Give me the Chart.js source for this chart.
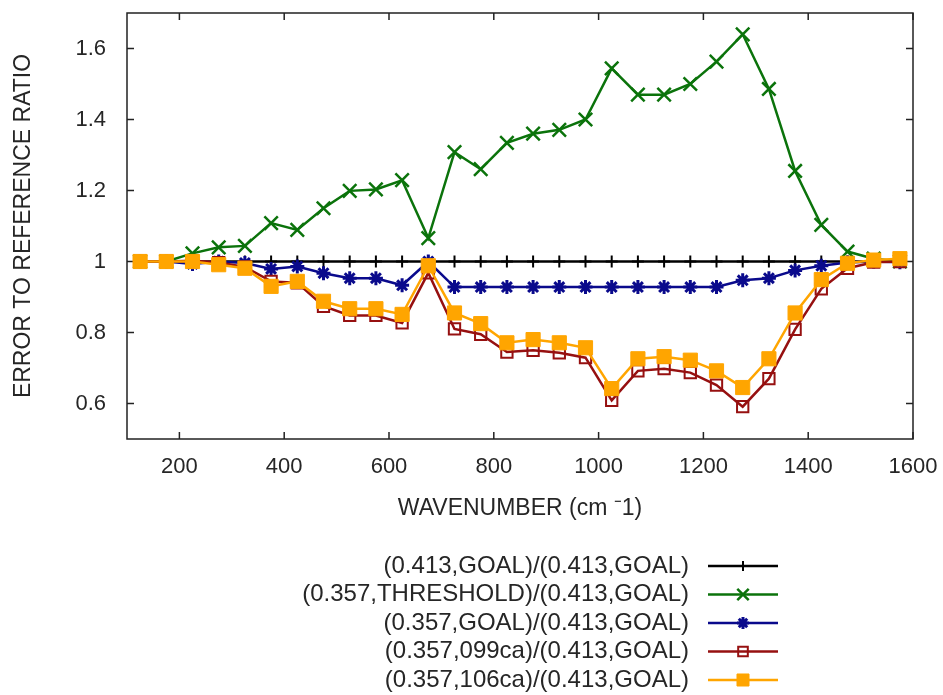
<!DOCTYPE html>
<html>
<head>
<meta charset="utf-8">
<script src="https://cdn.jsdelivr.net/npm/chart.js@4/dist/chart.umd.min.js"></script>
<style>
  html, body { margin: 0; padding: 0; background: #fff; }
  #wrap { width: 943px; height: 695px; position: relative; }
</style>
</head>
<body>
<div id="wrap"><canvas id="myLine"></canvas></div>
<script>
// wavenumber (cm-1) of every sample
let wavenumber = [125,175,225,275,325,375,425,475,525,575,625,675,725,775,825,875,925,975,1025,1075,1125,1175,1225,1275,1325,1375,1425,1475,1525,1575]

let goalGoal = [1,1,1,1,1,1,1,1,1,1,1,1,1,1,1,1,1,1,1,1,1,1,1,1,1,1,1,1,1,1]
let threshold = [1.0,1.0,1.023,1.04,1.044,1.108,1.089,1.15,1.199,1.203,1.229,1.066,1.308,1.26,1.334,1.36,1.371,1.4,1.544,1.47,1.47,1.5,1.563,1.64,1.486,1.255,1.103,1.028,1.008,1.0]
let goal357 = [1.0,1.0,0.993,1.0,0.996,0.979,0.986,0.967,0.953,0.953,0.933,1.0,0.928,0.928,0.928,0.928,0.928,0.928,0.928,0.928,0.928,0.928,0.928,0.947,0.953,0.975,0.988,0.997,1.0,0.998]
let ca099 = [1.0,1.0,1.002,0.997,0.985,0.944,0.94,0.874,0.848,0.848,0.827,0.968,0.81,0.795,0.745,0.75,0.743,0.729,0.609,0.692,0.698,0.687,0.652,0.591,0.67,0.809,0.923,0.981,0.998,1.0]
let ca106 = [1.0,1.0,1.0,0.991,0.981,0.93,0.944,0.888,0.867,0.867,0.851,0.988,0.855,0.825,0.771,0.78,0.771,0.757,0.642,0.726,0.732,0.722,0.692,0.645,0.726,0.855,0.949,0.995,1.004,1.008]

let xTicks = [200,400,600,800,1000,1200,1400,1600]
let yTicks = [0.6,0.8,1.0,1.2,1.4,1.6]

let labels = [
  '(0.413,GOAL)/(0.413,GOAL)',
  '(0.357,THRESHOLD)/(0.413,GOAL)',
  '(0.357,GOAL)/(0.413,GOAL)',
  '(0.357,099ca)/(0.413,GOAL)',
  '(0.357,106ca)/(0.413,GOAL)'
]

function pts(arr){
  return arr.map((v, i) => ({x: wavenumber[i], y: v}))
}

const textColor = '#262626'
const fontFam = '"Liberation Sans", Arial, sans-serif'

// gnuplot style box with inward ticks on all four sides
const boxPlugin = {
  id: 'box',
  beforeDatasetsDraw(chart){
    const ctx = chart.ctx
    const a = chart.chartArea
    const xs = chart.scales.x, ys = chart.scales.y
    ctx.save()
    ctx.strokeStyle = '#222'
    ctx.lineWidth = 1.5
    ctx.strokeRect(a.left, a.top, a.right - a.left, a.bottom - a.top)
    ctx.beginPath()
    xTicks.forEach(v => {
      let px = xs.getPixelForValue(v)
      ctx.moveTo(px, a.bottom); ctx.lineTo(px, a.bottom - 7)
      ctx.moveTo(px, a.top); ctx.lineTo(px, a.top + 7)
    })
    yTicks.forEach(v => {
      let py = ys.getPixelForValue(v)
      ctx.moveTo(a.left, py); ctx.lineTo(a.left + 7, py)
      ctx.moveTo(a.right, py); ctx.lineTo(a.right - 7, py)
    })
    ctx.stroke()
    ctx.restore()
  }
}

// legend below the plot: text right aligned, sample on the right
const legendPlugin = {
  id: 'sideLegend',
  afterDraw(chart){
    const ctx = chart.ctx
    ctx.save()
    ctx.font = '24px ' + fontFam
    ctx.textAlign = 'right'
    ctx.textBaseline = 'middle'
    chart.data.datasets.forEach((ds, i) => {
      let y = 566 + i * 28.5
      ctx.fillStyle = textColor
      ctx.fillText(ds.label, 689, y)
      ctx.strokeStyle = ds.borderColor
      ctx.lineWidth = ds.borderWidth
      ctx.beginPath()
      ctx.moveTo(708, y); ctx.lineTo(778, y)
      ctx.stroke()
      if (Chart.helpers && Chart.helpers.drawPoint) {
        ctx.fillStyle = ds.pointBackgroundColor
        ctx.strokeStyle = ds.pointBorderColor
        ctx.lineWidth = ds.pointBorderWidth
        Chart.helpers.drawPoint(ctx, {
          pointStyle: ds.pointStyle,
          radius: ds.pointRadius * 0.85,
          borderWidth: ds.pointBorderWidth,
          rotation: 0
        }, 743, y)
      }
    })
    ctx.restore()
  }
}

function makeSet(label, data, color, style, radius, fill, bw, order){
  return {
    label: label,
    data: pts(data),
    borderColor: color,
    borderWidth: 2.5,
    pointStyle: style,
    pointRadius: radius,
    pointHoverRadius: radius,
    pointBorderWidth: bw,
    pointBorderColor: color,
    pointBackgroundColor: fill,
    showLine: true,
    tension: 0,
    order: order
  }
}

let cht = document.getElementById('myLine')
let lineChart = new Chart(cht, {
  type: 'scatter',
  data: {
    datasets: [
      makeSet(labels[0], goalGoal, '#000000', 'cross', 6, '#000000', 2, 5),
      makeSet(labels[1], threshold, '#0b730b', 'crossRot', 9.5, '#0b730b', 2.5, 4),
      makeSet(labels[2], goal357, '#0a0a8c', 'star', 7, '#0a0a8c', 3, 3),
      makeSet(labels[3], ca099, '#961010', 'rect', 8, 'rgba(255,255,255,0)', 2, 2),
      makeSet(labels[4], ca106, '#ffa500', 'rect', 10, '#ffa500', 1, 1)
    ]
  },
  options: {
    responsive: true,
    maintainAspectRatio: false,
    animation: false,
    layout: { padding: { left: 0, top: 13, right: 30, bottom: 156 } },
    plugins: {
      legend: { display: false },
      tooltip: { enabled: false }
    },
    scales: {
      x: {
        type: 'linear',
        min: 100,
        max: 1600,
        afterBuildTicks: s => { s.ticks = xTicks.map(v => ({value: v})) },
        afterFit: s => { s.height = 100; s.paddingLeft = 0; s.paddingRight = 0 },
        grid: { display: false },
        border: { display: false },
        ticks: {
          padding: 7,
          color: textColor,
          font: { family: fontFam, size: 22 },
          maxRotation: 0,
          autoSkip: false,
          callback: v => String(v)
        },
        title: {
          display: true,
          text: 'WAVENUMBER (cm \u207B1)',
          color: textColor,
          font: { family: fontFam, size: 23 },
          padding: { top: 0, bottom: 17 }
        }
      },
      y: {
        min: 0.5,
        max: 1.7,
        afterBuildTicks: s => { s.ticks = yTicks.map(v => ({value: v})) },
        afterFit: s => { s.width = 127; s.paddingTop = 0; s.paddingBottom = 0 },
        grid: { display: false },
        border: { display: false },
        ticks: {
          padding: 13,
          color: textColor,
          font: { family: fontFam, size: 22 },
          callback: v => String(+v.toFixed(1))
        },
        title: {
          display: true,
          text: 'ERROR TO REFERENCE RATIO',
          color: textColor,
          font: { family: fontFam, size: 23 },
          padding: { top: 10, bottom: 0 }
        }
      }
    }
  },
  plugins: [boxPlugin, legendPlugin]
})
</script>
</body>
</html>
